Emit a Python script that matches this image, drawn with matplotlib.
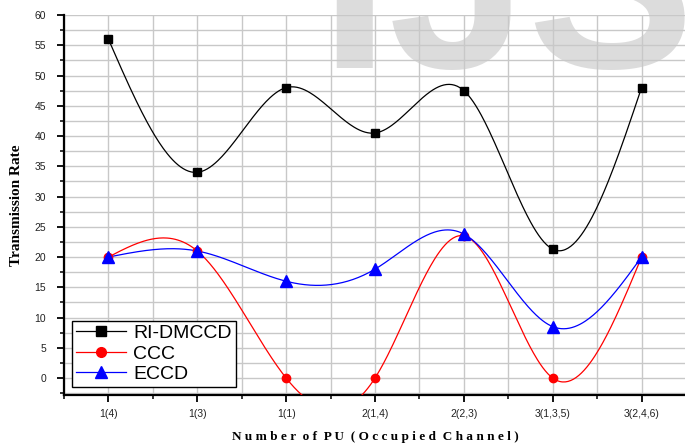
import numpy as np
import matplotlib
matplotlib.use("Agg")
import matplotlib.pyplot as plt
from matplotlib.ticker import MultipleLocator

categories = ["1(4)", "1(3)", "1(1)", "2(1,4)", "2(2,3)", "3(1,3,5)", "3(2,4,6)"]
ri_dmccd = [56, 34, 48, 40.5, 47.5, 21.3, 48]
ccc = [20, 21, 0, 0, 23.5, 0, 20]
eccd = [20, 21, 16, 18, 23.8, 8.5, 20]


def natural_spline(xs, ys, n=400):
    # natural cubic spline, used only to draw the smooth connecting line
    xs = np.asarray(xs, float)
    ys = np.asarray(ys, float)
    k = len(xs)
    h = np.diff(xs)
    A = np.zeros((k, k))
    b = np.zeros(k)
    A[0, 0] = A[-1, -1] = 1
    for i in range(1, k - 1):
        A[i, i - 1] = h[i - 1]
        A[i, i] = 2 * (h[i - 1] + h[i])
        A[i, i + 1] = h[i]
        b[i] = 6 * ((ys[i + 1] - ys[i]) / h[i] - (ys[i] - ys[i - 1]) / h[i - 1])
    M = np.linalg.solve(A, b)
    xx = np.linspace(xs[0], xs[-1], n)
    idx = np.clip(np.searchsorted(xs, xx) - 1, 0, k - 2)
    x0, x1 = xs[idx], xs[idx + 1]
    hh = x1 - x0
    yy = (M[idx] * (x1 - xx) ** 3 / (6 * hh) + M[idx + 1] * (xx - x0) ** 3 / (6 * hh)
          + (ys[idx] / hh - M[idx] * hh / 6) * (x1 - xx)
          + (ys[idx + 1] / hh - M[idx + 1] * hh / 6) * (xx - x0))
    return xx, yy


fig = plt.figure(figsize=(6.85, 4.44), dpi=100)
ax = fig.add_axes([64 / 685, 1 - 395 / 444, 622 / 685, 380 / 444])

x = np.arange(len(categories))

series = [
    ("RI-DMCCD", ri_dmccd, "black", "s", 6),
    ("CCC", ccc, "red", "o", 6),
    ("ECCD", eccd, "blue", "^", 8),
]
for name, vals, col, mk, ms in series:
    xx, yy = natural_spline(x, vals)
    ax.plot(xx, yy, color=col, lw=0.9, zorder=3)
    ax.plot(x, vals, linestyle="none", marker=mk, color=col, ms=ms, zorder=4)
    ax.plot([], [], color=col, lw=0.9, marker=mk, ms=ms + 1, label=name)

# watermark
ax.text(319 / 685, 1 - 68 / 444, "IJS", transform=fig.transFigure,
        fontsize=180, family="Liberation Sans", fontweight="bold", color="#dcdcdc",
        ha="left", va="baseline", zorder=0.2)

ax.set_xlim(-0.5, 6.5)
ax.set_ylim(-2.8, 60)
ax.set_xticks(x)
ax.set_xticklabels(categories, fontsize=7.5, family="Liberation Sans", color="#222222")
ax.xaxis.set_minor_locator(MultipleLocator(0.5))
ax.yaxis.set_major_locator(MultipleLocator(5))
ax.yaxis.set_minor_locator(MultipleLocator(2.5))
ax.set_yticks(np.arange(0, 61, 5))
for lab in ax.get_yticklabels():
    lab.set_fontsize(7.5)
    lab.set_family("Liberation Sans")
    lab.set_color("#222222")

ax.grid(True, which="both", color="#c8c8c8", lw=1)
ax.set_axisbelow(True)
ax.patch.set_alpha(0)

for s in ["top", "right"]:
    ax.spines[s].set_visible(False)
for s in ["left", "bottom"]:
    ax.spines[s].set_linewidth(1.6)
ax.tick_params(which="major", direction="out", length=5, width=1.3)
ax.tick_params(axis="x", which="major", pad=5)
ax.tick_params(axis="y", which="major", pad=8)
ax.tick_params(which="minor", direction="out", length=3, width=1.1)

ax.set_ylabel("Transmission Rate", fontsize=11, family="Liberation Serif",
              fontweight="bold", labelpad=8)
ax.set_xlabel("N u m b e r  o f  P U  ( O c c u p i e d  C h a n n e l )", fontsize=9.5,
              family="Liberation Serif", fontweight="bold", labelpad=9)

leg = ax.legend(loc="lower left", bbox_to_anchor=(8 / 622, 8 / 380),
                prop={"family": "Liberation Sans", "size": 14},
                frameon=True, fancybox=False, edgecolor="black", framealpha=1,
                handlelength=2.6, borderpad=0.2, labelspacing=0.15, handletextpad=0.35,
                borderaxespad=0)
leg.get_frame().set_linewidth(1.0)

fig.savefig("out.png", dpi=100)
